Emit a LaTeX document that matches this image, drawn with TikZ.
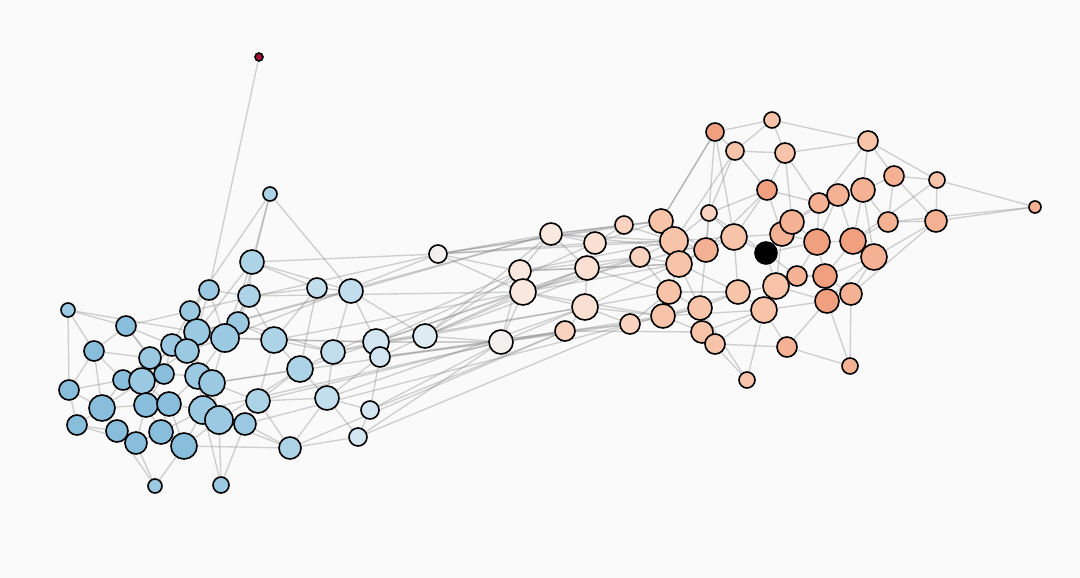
\documentclass[tikz,border=0pt]{standalone}
\usetikzlibrary{backgrounds}
\definecolor{bgc}{HTML}{FAFAFA}
\definecolor{dk}{HTML}{A8123A}
\definecolor{bA}{HTML}{88BEDC}
\definecolor{bB}{HTML}{9BC9E2}
\definecolor{bC}{HTML}{ADD3E7}
\definecolor{bD}{HTML}{C2DDEC}
\definecolor{bE}{HTML}{D2E5F0}
\definecolor{bF}{HTML}{DFEBF3}
\definecolor{wh}{HTML}{F2EFED}
\definecolor{rF}{HTML}{F9E8DE}
\definecolor{rE}{HTML}{FAE0D2}
\definecolor{rD}{HTML}{F9D3BF}
\definecolor{rC}{HTML}{F7C4A9}
\definecolor{rB}{HTML}{F4B193}
\definecolor{rA}{HTML}{F0A07F}
\tikzset{
  nd/.style={circle, draw=black, line width=1.6pt, inner sep=0pt},
  edge/.style={draw=black!45, line width=1.35pt, opacity=0.4}
}
\begin{document}
\begin{tikzpicture}[x=1pt,y=-1pt]
\useasboundingbox (0,0) rectangle (1080,578);
\foreach \n/\x/\y/\r/\c in {
1/259/57/4/dk, 2/270/194/7/bC, 3/252/262/12/bC, 4/317/288/10/bD, 5/351/291/12/bD,
6/209/290/10/bB, 7/249/296/11/bC, 8/190/311/10/bB, 9/68/310/7/bB, 10/126/326/10/bA,
11/238/323/11/bB, 12/197/332/13/bB, 13/225/338/14/bB, 14/274/340/13/bC, 15/172/345/11/bB,
16/187/351/12/bB, 17/94/351/10/bA, 18/150/358/11/bB, 19/376/342/13/bE, 20/380/357/10/bE,
21/333/352/12/bD, 22/425/336/12/bF, 23/300/369/13/bC, 24/164/374/10/bA, 25/123/380/10/bA,
26/142/381/13/bB, 27/198/376/13/bB, 28/212/383/13/bB, 29/69/390/10/bA, 30/102/408/13/bA,
31/146/405/12/bA, 32/169/404/12/bA, 33/203/410/14/bB, 34/219/420/14/bB, 35/258/401/12/bC,
36/327/398/12/bD, 37/370/410/9/bE, 38/77/425/10/bA, 39/117/431/11/bA, 40/136/443/11/bA,
41/161/432/12/bA, 42/184/446/13/bA, 43/245/424/11/bB, 44/290/448/11/bC, 45/358/437/9/bE,
46/155/486/7/bB, 47/221/485/8/bB,
48/438/254/9/wh, 49/501/342/12/wh, 50/551/234/11/rF, 51/520/271/11/rF, 52/523/292/13/rF,
53/595/243/11/rE, 54/587/268/12/rE, 55/585/307/13/rE, 56/565/331/10/rD, 57/624/225/9/rD,
58/640/257/10/rD, 59/630/324/10/rD, 60/661/221/12/rC, 61/674/241/14/rC, 62/679/264/13/rC,
63/706/250/12/rB, 64/669/292/12/rC, 65/663/316/12/rC, 66/700/308/12/rC, 67/702/332/11/rC,
68/715/344/10/rC,
69/715/132/9/rA, 70/772/120/8/rC, 71/735/151/9/rC, 72/785/153/10/rC, 73/868/141/10/rC,
74/767/190/10/rA, 75/894/176/10/rB, 76/937/180/8/rC, 77/1035/207/6/rB, 78/709/213/8/rD,
79/819/203/10/rB, 80/838/195/11/rB, 81/863/190/12/rB, 82/888/222/10/rB, 83/936/221/11/rB,
84/734/237/13/rC, 85/766/253/11/black, 86/782/234/12/rB, 87/792/222/12/rB, 88/817/242/13/rA,
89/853/241/13/rA, 90/874/257/13/rB, 91/797/276/10/rB, 92/825/276/12/rA, 93/776/286/13/rC,
94/738/292/12/rC, 95/827/301/12/rA, 96/851/294/11/rB, 97/764/310/13/rC, 98/787/347/10/rB,
99/850/366/8/rB, 100/747/380/8/rC}
  \node[nd, minimum size=\r*2pt, fill=\c] (n\n) at (\x,\y) {};
\begin{scope}[on background layer]
\fill[bgc] (0,0) rectangle (1080,578);
\foreach \a/\b in {
1/6, 2/3, 2/5, 2/8, 2/11, 3/4, 3/5, 3/7, 3/13, 3/12, 3/48, 4/7, 4/14, 4/5, 4/23,
5/19, 5/21, 5/50, 5/22, 5/12, 6/8, 6/12, 6/13, 6/7, 7/11, 7/13, 7/14, 7/52,
8/10, 8/12, 8/15, 8/16, 9/10, 9/29, 9/17, 9/12, 10/17, 10/15, 10/18, 10/24,
11/13, 11/14, 11/12, 11/21, 12/13, 12/15, 12/16, 12/27, 13/16, 13/14, 13/27, 13/28, 13/19,
14/21, 14/23, 14/19, 14/35, 15/16, 15/18, 15/24, 15/26, 16/18, 16/27, 16/28, 16/26,
17/25, 17/18, 17/29, 17/30, 18/24, 18/26, 18/25, 19/20, 19/21, 19/22, 19/49, 19/52, 19/55,
20/22, 20/37, 20/36, 20/49, 21/23, 21/36, 21/51, 22/49, 22/52, 22/54, 22/51,
23/35, 23/36, 23/28, 23/34, 24/26, 24/27, 24/31, 25/26, 25/29, 25/30, 26/31, 26/32, 26/30,
27/28, 27/32, 27/33, 28/33, 28/34, 28/35, 29/30, 29/38, 30/38, 30/39, 30/31,
31/32, 31/40, 31/41, 32/33, 32/41, 32/42, 33/34, 33/41, 33/42, 33/47,
34/43, 34/42, 34/47, 34/44, 35/36, 35/43, 35/44, 36/37, 36/44, 36/45, 37/45, 37/49, 37/56,
38/39, 38/40, 39/40, 39/46, 40/41, 40/46, 41/42, 42/44, 42/46, 43/44, 43/47, 44/45, 45/49,
13/48, 12/50, 14/52, 21/55, 28/56, 35/49, 43/59, 44/56, 36/55, 23/54, 45/59, 19/53, 22/50,
20/56, 33/49, 8/48, 52/84, 55/63, 51/62, 22/58, 48/61, 49/59, 52/65, 51/58, 50/63, 54/64, 48/53,
48/50, 48/51, 48/52, 48/60, 48/57, 49/52, 49/55, 49/56, 49/51, 49/65,
50/51, 50/53, 50/54, 50/57, 50/60, 50/61, 51/52, 51/54, 51/61, 52/54, 52/55, 52/58, 52/62,
53/54, 53/57, 53/60, 53/61, 54/55, 54/58, 54/62, 55/56, 55/59, 55/64, 55/65, 56/59, 56/67,
57/60, 57/61, 58/61, 58/62, 58/64, 59/65, 59/64, 59/66, 60/61, 60/63, 60/69,
61/62, 61/63, 61/84, 61/71, 62/63, 62/64, 62/66, 62/94, 63/84, 63/66, 63/78, 63/74,
64/65, 64/66, 64/94, 65/66, 65/67, 65/97, 66/67, 66/94, 66/68, 67/68, 67/97, 67/100, 68/98, 68/97,
69/70, 69/71, 69/60, 69/84, 69/63, 70/72, 70/73, 70/71, 71/72, 71/74, 71/78,
72/73, 72/74, 72/87, 72/79, 73/75, 73/76, 73/81, 73/79, 74/78, 74/84, 74/86, 74/79,
75/76, 75/81, 75/82, 75/83, 76/83, 76/89, 76/77, 77/83, 77/82, 78/84, 78/61, 78/85,
79/80, 79/87, 79/88, 80/81, 80/88, 80/89, 81/82, 81/89, 81/90, 82/83, 82/89, 83/90, 83/96,
84/85, 84/94, 84/86, 85/86, 85/88, 85/93, 85/91, 86/87, 86/88, 86/93, 87/88, 87/80,
88/89, 88/91, 88/92, 89/90, 89/92, 90/92, 90/96, 90/95, 91/92, 91/93, 91/97,
92/95, 92/96, 93/94, 93/97, 93/95, 94/97, 94/65, 95/96, 95/99, 95/97, 96/99,
97/98, 97/100, 98/99, 98/95, 100/66}
  \draw[edge] (n\a) -- (n\b);
\end{scope}
\end{tikzpicture}
\end{document}
